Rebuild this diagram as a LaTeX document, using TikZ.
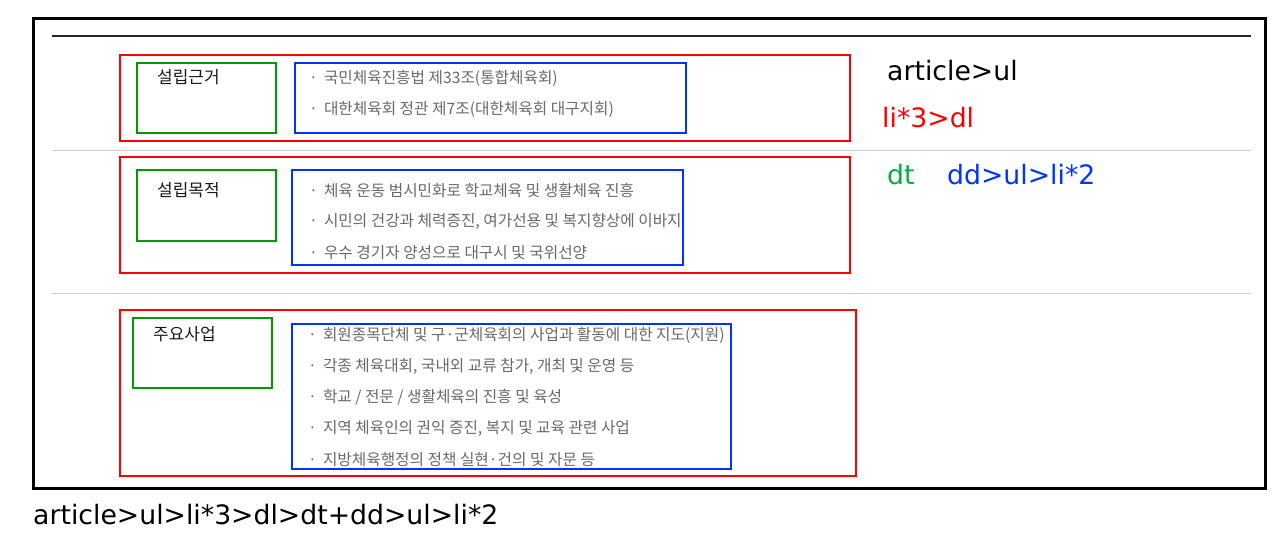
\documentclass[tikz,border=0pt]{standalone}
\usepackage{fontspec}
\setmainfont{DejaVu Sans}
\newfontfamily\kr{Noto Sans CJK KR}
\definecolor{boxred}{RGB}{255,0,0}
\definecolor{boxgreen}{RGB}{0,155,0}
\definecolor{boxblue}{RGB}{0,51,255}
\definecolor{txtgreen}{RGB}{0,176,60}
\definecolor{itemgray}{RGB}{105,105,105}
\definecolor{sepgray}{RGB}{205,205,205}
\tikzset{
  x=1pt,y=-1pt,
  redbox/.style={draw=boxred,line width=2.5pt},
  greenbox/.style={draw=boxgreen,line width=2.5pt},
  bluebox/.style={draw=boxblue,line width=2.5pt},
  dtlabel/.style={anchor=west,inner sep=0pt,font=\kr\fontsize{17}{20}\selectfont,text=black!90},
  item/.style={anchor=west,inner sep=0pt,font=\kr\fontsize{15.7}{19}\selectfont,text=itemgray},
  note/.style={anchor=west,inner sep=0pt,font=\fontsize{26.7}{32}\selectfont}
}
\begin{document}
\begin{tikzpicture}
\useasboundingbox (0,0) rectangle (1277,550);
% outer frame
\draw[line width=3pt,black] (33,18) rectangle (1265,488);
\draw[line width=2pt,black!85] (52,36) -- (1251,36);
\draw[line width=1pt,sepgray] (52,150) -- (1251,150);
\draw[line width=1pt,sepgray] (52,293) -- (1251,293);
% block 1
\draw[redbox] (120,55) rectangle (850,141);
\draw[greenbox] (137,63) rectangle (276,133);
\draw[bluebox] (295,63) rectangle (686,133);
\node[dtlabel] (dt1) at (157,77) {설립근거};
\node[item] (i11) at (309,78) {·\hspace{6pt}국민체육진흥법 제33조(통합체육회)};
\node[item] (i12) at (309,110) {·\hspace{6pt}대한체육회 정관 제7조(대한체육회 대구지회)};
% block 2
\draw[redbox] (120,157) rectangle (850,273);
\draw[greenbox] (137,170) rectangle (276,241);
\draw[bluebox] (292,170) rectangle (683,265);
\node[dtlabel] (dt2) at (157,190) {설립목적};
\node[item] (i21) at (309,191) {·\hspace{6pt}체육 운동 범시민화로 학교체육 및 생활체육 진흥};
\node[item] (i22) at (309,221) {·\hspace{6pt}시민의 건강과 체력증진, 여가선용 및 복지향상에 이바지};
\node[item] (i23) at (309,253) {·\hspace{6pt}우수 경기자 양성으로 대구시 및 국위선양};
% block 3
\draw[redbox] (120,310) rectangle (856,476);
\draw[greenbox] (133,318) rectangle (272,388);
\draw[bluebox] (292,324) rectangle (731,469);
\node[dtlabel] (dt3) at (153,334) {주요사업};
\node[item] (i31) at (308,335) {·\hspace{6pt}회원종목단체 및 구·군체육회의 사업과 활동에 대한 지도(지원)};
\node[item] (i32) at (308,366) {·\hspace{6pt}각종 체육대회, 국내외 교류 참가, 개최 및 운영 등};
\node[item] (i33) at (308,397) {·\hspace{6pt}학교 / 전문 / 생활체육의 진흥 및 육성};
\node[item] (i34) at (308,428) {·\hspace{6pt}지역 체육인의 권익 증진, 복지 및 교육 관련 사업};
\node[item] (i35) at (308,460) {·\hspace{6pt}지방체육행정의 정책 실현·건의 및 자문 등};
% notes
\node[note,text=black] (n1) at (887,71) {article>ul};
\node[note,text=boxred] (n2) at (882,118) {li*3>dl};
\node[note,text=txtgreen] (n3) at (887,175) {dt};
\node[note,text=boxblue] (n4) at (947,175) {dd>ul>li*2};
\node[note,text=black] (n5) at (33,515) {article>ul>li*3>dl>dt+dd>ul>li*2};
\end{tikzpicture}
\end{document}
